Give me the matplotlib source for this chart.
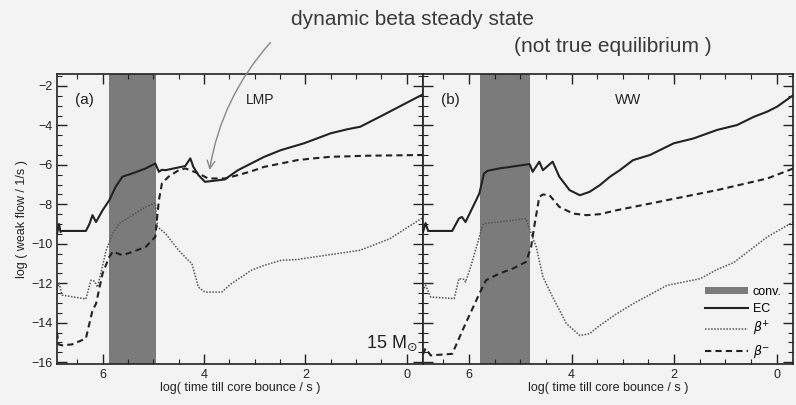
import matplotlib.pyplot as plt
import numpy as np

plt.rcParams['font.family'] = ['Liberation Sans', 'DejaVu Sans']

# ---- data (x = log time till bounce, y = log weak flow)
# panel (a) LMP
lmp_ec_x = [6.9, 6.86, 6.83, 6.8, 6.33, 6.26, 6.2, 6.13, 6.0, 5.87, 5.74, 5.61, 5.41, 5.15, 4.96, 4.89, 4.83,
            4.76, 4.5, 4.37, 4.27, 4.21, 4.11, 3.98, 3.59, 3.33, 3.07, 2.81, 2.48, 2.03, 1.5, 1.18, 0.92, 0.53, -0.3]
lmp_ec_y = [-9.5, -9.0, -9.4, -9.35, -9.35, -9.0, -8.55, -8.9, -8.3, -7.8, -7.1, -6.6, -6.43, -6.18, -5.93, -6.35, -6.25,
            -6.27, -6.13, -6.06, -5.67, -6.1, -6.52, -6.86, -6.74, -6.27, -5.93, -5.59, -5.25, -4.91, -4.4, -4.2, -4.07, -3.56, -2.45]
lmp_bp_x = [6.9, 6.86, 6.8, 6.33, 6.23, 6.16, 6.1, 5.93, 5.8, 5.67, 5.41, 5.15, 4.96, 4.92, 4.76,
            4.5, 4.31, 4.24, 4.11, 3.98, 3.65, 3.46, 3.26, 3.07, 2.81, 2.48, 2.16, 1.83, 0.92, 0.33, -0.3]
lmp_bp_y = [-12.3, -12.0, -12.6, -12.8, -11.85, -11.9, -12.2, -10.33, -9.48, -8.97, -8.55, -8.13, -7.93, -9.14, -9.48,
            -10.33, -10.84, -11.0, -12.2, -12.45, -12.45, -12.02, -11.68, -11.35, -11.09, -10.84, -10.8, -10.67, -10.33, -9.74, -8.7]
lmp_bm_x = [6.9, 6.87, 6.8, 6.6, 6.33, 6.2, 6.13, 6.0, 5.87, 5.8, 5.61, 5.41, 5.15, 4.96, 4.93,
            4.89, 4.83, 4.7, 4.5, 4.37, 4.11, 3.92, 3.59, 3.33, 3.07, 2.81, 2.48, 2.16, 1.83, 1.5, 1.18, 0.85, -0.3]
lmp_bm_y = [-14.5, -15.1, -15.15, -15.1, -14.8, -13.38, -13.04, -11.5, -10.67, -10.4, -10.58, -10.41, -10.16, -9.65, -8.8,
            -7.8, -6.94, -6.6, -6.27, -6.18, -6.43, -6.69, -6.69, -6.52, -6.33, -6.1, -5.93, -5.76, -5.67, -5.59, -5.57, -5.54, -5.5]

# panel (b) WW
ww_ec_x = [6.9, 6.85, 6.8, 6.7, 6.33, 6.2, 6.14, 6.07, 5.8, 5.71, 5.64, 5.41, 5.08, 4.82, 4.76, 4.63, 4.56,
           4.37, 4.24, 4.04, 3.84, 3.65, 3.45, 3.25, 3.06, 2.8, 2.47, 2.01, 1.62, 1.16, 0.77, 0.44, 0.18, -0.01, -0.33]
ww_ec_y = [-9.4, -8.95, -9.35, -9.35, -9.35, -8.72, -8.64, -8.9, -7.45, -6.44, -6.3, -6.18, -6.06, -5.96, -6.35, -5.84, -6.27,
           -5.84, -6.6, -7.28, -7.54, -7.37, -7.03, -6.6, -6.27, -5.76, -5.5, -4.91, -4.66, -4.23, -3.98, -3.56, -3.3, -3.05, -2.46]
ww_bp_x = [6.9, 6.85, 6.75, 6.29, 6.2, 6.1, 6.07, 5.97, 5.8, 5.74, 5.71, 5.41, 4.89, 4.79, 4.69, 4.56,
           4.37, 4.1, 3.84, 3.65, 3.45, 3.12, 2.8, 2.14, 1.49, 1.16, 0.84, 0.18, -0.33]
ww_bp_y = [-12.4, -12.1, -12.7, -12.78, -11.77, -11.8, -11.94, -11.18, -9.65, -9.06, -8.97, -8.89, -8.72, -9.48, -10.16, -11.68,
           -12.7, -14.05, -14.65, -14.56, -14.14, -13.55, -13.04, -12.11, -11.77, -11.3, -10.96, -9.65, -8.89]
ww_bm_x = [6.9, 6.85, 6.75, 6.33, 6.07, 5.8, 5.67, 5.41, 5.15, 4.89, 4.79, 4.73, 4.63, 4.56, 4.43,
           4.24, 3.97, 3.71, 3.45, 3.12, 2.14, 1.16, 0.18, -0.33]
ww_bm_y = [-15.6, -15.3, -15.66, -15.58, -14.05, -12.53, -11.85, -11.51, -11.26, -10.92, -10.16, -9.14, -7.62, -7.5, -7.54,
           -8.13, -8.47, -8.55, -8.5, -8.3, -7.79, -7.28, -6.69, -6.18]

conv_lmp = (5.88, 4.94)
conv_ww = (5.78, 4.82)

yticks = [-2, -4, -6, -8, -10, -12, -14, -16]
xticks = [6, 4, 2, 0]

BG = '#f3f3f3'
INK = '#222222'

fig = plt.figure(figsize=(7.96, 4.05), dpi=100, facecolor=BG)
axa = fig.add_axes([0.0716, 0.101, 0.4598, 0.716], facecolor=BG)
axb = fig.add_axes([0.5314, 0.101, 0.4648, 0.716], facecolor=BG)

panels = [
    (axa, conv_lmp, (lmp_ec_x, lmp_ec_y), (lmp_bp_x, lmp_bp_y), (lmp_bm_x, lmp_bm_y), '(a)'),
    (axb, conv_ww, (ww_ec_x, ww_ec_y), (ww_bp_x, ww_bp_y), (ww_bm_x, ww_bm_y), '(b)'),
]

for ax, conv, ec, bp, bm, tag in panels:
    ax.axvspan(conv[0], conv[1], color='#7b7b7b', lw=0, label='conv.')
    ax.plot(*ec, color=INK, lw=1.5, label='EC')
    ax.plot(*bp, color='#555555', lw=1.1, ls=(0, (1, 1)), label=r'$\beta^{+}$')
    ax.plot(*bm, color=INK, lw=1.5, ls=(0, (3, 2)), label=r'$\beta^{-}$')
    ax.set_xlim(6.9, -0.32)
    ax.set_ylim(-16.1, -1.4)
    ax.set_xticks(xticks)
    ax.set_xticks(np.arange(-0.0, 7.0, 0.5), minor=True)
    ax.set_yticks(yticks)
    ax.set_yticks(np.arange(-16, -1.4, 0.5), minor=True)
    ax.tick_params(which='both', direction='in', top=True, right=True,
                   color=INK, labelsize=9, labelcolor=INK)
    ax.tick_params(which='major', length=7, width=1)
    ax.tick_params(which='minor', length=3.5, width=0.8)
    for s in ax.spines.values():
        s.set_color(INK)
        s.set_linewidth(1.2)
    ax.set_xlabel('log( time till core bounce / s )', fontsize=9, color=INK, labelpad=1)
    ax.text(0.05, 0.91, tag, transform=ax.transAxes, fontsize=11, color=INK, va='center')

axa.text(0.515, 0.91, 'LMP', transform=axa.transAxes, fontsize=10, color=INK, va='center')
axb.text(0.52, 0.91, 'WW', transform=axb.transAxes, fontsize=10, color=INK, va='center')

axb.tick_params(which='both', labelleft=False)
axa.set_ylabel('log ( weak flow / 1/s )', fontsize=9, color=INK, labelpad=2)

axa.text(0.845, 0.055, r'15 M$_{\odot}$', transform=axa.transAxes, fontsize=13, color=INK)

leg = axb.legend(loc='lower right', bbox_to_anchor=(1.0, -0.025), frameon=False, fontsize=9,
                 handlelength=3.4, handleheight=0.5, handletextpad=0.4, labelspacing=0.4)

# handwritten note above the plots
fig.text(0.518, 0.952, 'dynamic beta steady state', fontsize=15, color='#3a3a3a',
         ha='center', va='center')
fig.text(0.77, 0.885, '(not true equilibrium )', fontsize=15, color='#3a3a3a',
         ha='center', va='center')
axa.annotate('', xy=(3.9, -6.4), xycoords='data',
             xytext=(0.342, 0.9), textcoords='figure fraction',
             arrowprops=dict(arrowstyle='->', color='#888888', lw=1.0,
                             connectionstyle='arc3,rad=0.15', mutation_scale=14))

fig.savefig('out.png', dpi=100, facecolor=BG)
